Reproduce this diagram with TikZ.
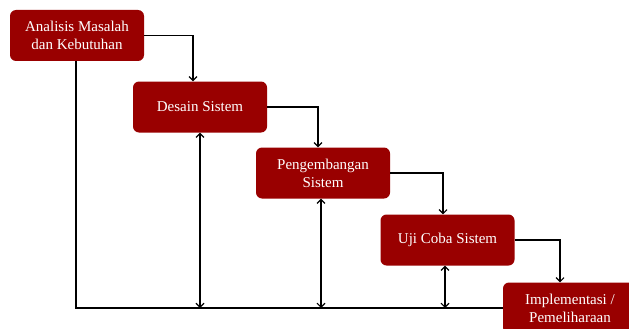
\documentclass[tikz,border=0pt]{standalone}
\usepackage{fontspec}
\setmainfont{Liberation Serif}
\usepackage{tikz}
\usetikzlibrary{arrows.meta, calc, positioning}
\definecolor{boxred}{RGB}{153,0,0}

\tikzset{
  tahap/.style={fill=boxred, rounded corners=6pt, text=white, align=center,
    minimum width=134pt, minimum height=51pt, inner sep=2pt,
    font=\fontsize{15}{18}\selectfont},
  alur/.style={line width=1.1pt, >={Straight Barb[length=4pt,width=8pt]}}
}

\begin{document}
\begin{tikzpicture}[x=1pt,y=-1pt]
  \useasboundingbox (0,0) rectangle (629,329);
  \node[tahap] (analisis) at (77,35.5) {Analisis Masalah\\dan Kebutuhan};
  \node[tahap] (desain) at (200,107) {Desain Sistem};
  \node[tahap] (kembang) at (323,173) {Pengembangan\\Sistem};
  \node[tahap] (uji) at (447.5,240) {Uji Coba Sistem};
  \node[tahap] (impl) at (570,308) {Implementasi /\\Pemeliharaan};
  % alur turun
  \draw[alur,->] (analisis.east) -| ([xshift=-7pt]desain.north);
  \draw[alur,->] (desain.east) -| ([xshift=-5pt]kembang.north);
  \draw[alur,->] (kembang.east) -| ([xshift=-4.5pt]uji.north);
  \draw[alur,->] (uji.east) -| ([xshift=-10pt]impl.north);
  % umpan balik
  \draw[alur] ([xshift=-1pt]analisis.south) |- (impl.west);
  \draw[alur,<->] (desain.south) -- (desain.south |- impl.west);
  \draw[alur,<->] ([xshift=-2pt]kembang.south) -- ([xshift=-2pt]kembang.south |- impl.west);
  \draw[alur,<->] ([xshift=-2.5pt]uji.south) -- ([xshift=-2.5pt]uji.south |- impl.west);
\end{tikzpicture}
\end{document}
